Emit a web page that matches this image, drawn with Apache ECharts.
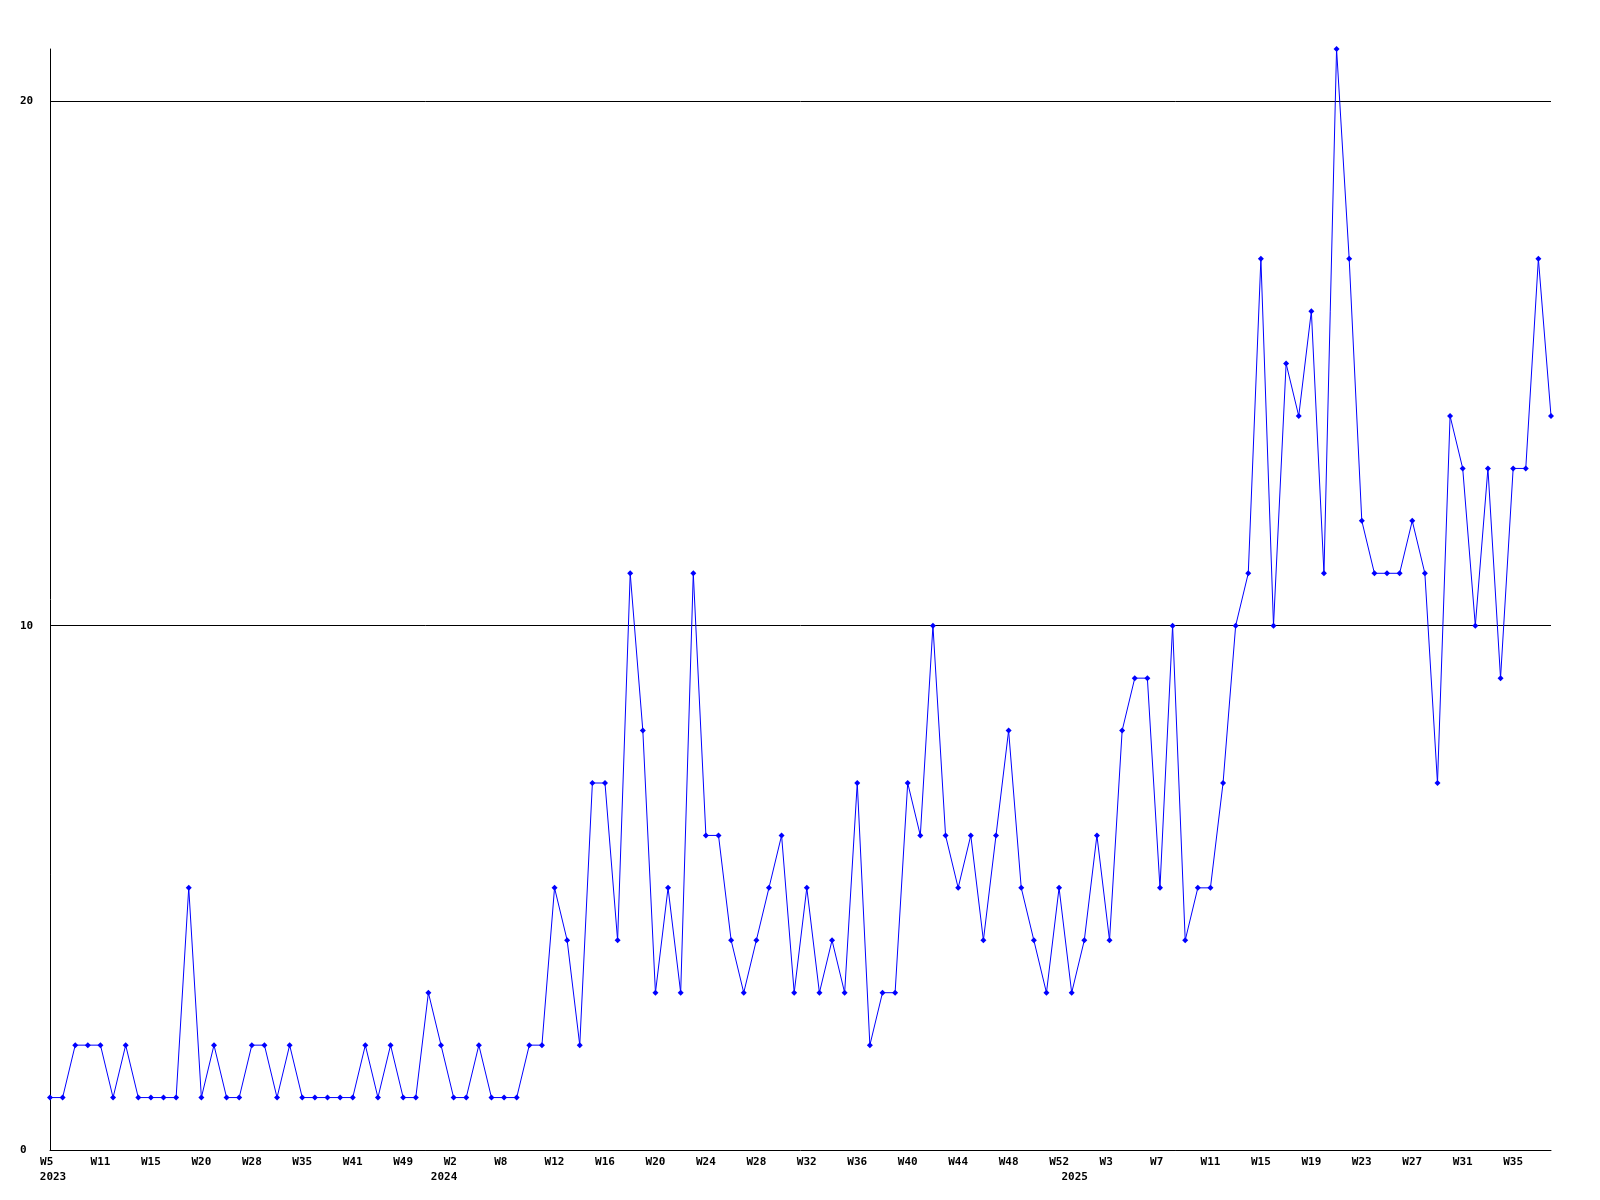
<!DOCTYPE html>
<html>
<head>
<meta charset="utf-8">
<title>Weekly count</title>
<script src="https://cdn.jsdelivr.net/npm/echarts@6/dist/echarts.min.js"></script>
<style>
    html, body { margin: 0; padding: 0; background: #fff; }
    #chart { width: 1600px; height: 1200px; }
</style>
</head>
<body>
<div id="chart"></div>
<script>
    // weeks per year (only weeks that have data)
    var weeks2023 = [5, 6, 7, 9, 11, 12, 13, 14, 15, 16, 17, 19, 20, 22, 24, 26, 28, 30, 32, 33,
        35, 36, 38, 39, 41, 43, 45, 47, 49, 50, 51];
    var weeks2024 = [1, 2, 4, 5, 6, 8, 9, 10, 11, 12, 13, 14, 15, 16, 17, 18, 19, 20, 21, 22,
        23, 24, 25, 26, 27, 28, 29, 30, 31, 32, 33, 34, 35, 36, 37, 38, 39, 40, 41, 42,
        43, 44, 45, 46, 47, 48, 49, 50, 51, 52];
    var weeks2025 = [0, 1, 2, 3, 4, 5, 6, 7, 8, 9, 10, 11, 12, 13, 14, 15, 16, 17, 18, 19,
        20, 21, 22, 23, 24, 25, 26, 27, 28, 29, 30, 31, 32, 33, 34, 35, 36, 37, 38];

    var counts2023 = [1, 1, 2, 2, 2, 1, 2, 1, 1, 1, 1, 5, 1, 2, 1, 1, 2, 2, 1, 2,
        1, 1, 1, 1, 1, 2, 1, 2, 1, 1, 3];
    var counts2024 = [2, 1, 1, 2, 1, 1, 1, 2, 2, 5, 4, 2, 7, 7, 4, 11, 8, 3, 5, 3,
        11, 6, 6, 4, 3, 4, 5, 6, 3, 5, 3, 4, 3, 7, 2, 3, 3, 7, 6, 10,
        6, 5, 6, 4, 6, 8, 5, 4, 3, 5];
    var counts2025 = [3, 4, 6, 4, 8, 9, 9, 5, 10, 4, 5, 5, 7, 10, 11, 17, 10, 15, 14, 16,
        11, 21, 17, 12, 11, 11, 11, 12, 11, 7, 14, 13, 10, 13, 9, 13, 13, 17, 14];

    var categories = [];
    var yearStart = {};
    [[2023, weeks2023], [2024, weeks2024], [2025, weeks2025]].forEach(function (p) {
        yearStart[categories.length] = p[0];
        p[1].forEach(function (w) { categories.push(p[0] + '-W' + w); });
    });
    var counts = counts2023.concat(counts2024, counts2025);

    var labelFont = {
        fontFamily: 'DejaVu Sans Mono',
        fontWeight: 'bold',
        fontSize: 11,
        color: '#000'
    };

    var chart = echarts.init(document.getElementById('chart'));
    chart.setOption({
        animation: false,
        backgroundColor: '#fff',
        grid: { left: 50, right: 49, top: 49, bottom: 50 },
        xAxis: [
            {
                type: 'category',
                data: categories,
                boundaryGap: false,
                axisLine: { lineStyle: { color: '#000', width: 1 } },
                axisTick: { show: false },
                splitLine: { show: false },
                axisLabel: Object.assign({
                    interval: 3,
                    margin: 7,
                    formatter: function (v) {
                        var w = v.split('-')[1];
                        return w.length < 3 ? w + ' ' : w;
                    }
                }, labelFont)
            },
            {
                type: 'category',
                data: categories,
                position: 'bottom',
                boundaryGap: false,
                axisLine: { show: false },
                axisTick: { show: false },
                splitLine: { show: false },
                axisLabel: Object.assign({
                    interval: function (idx) { return yearStart[idx] !== undefined; },
                    margin: 22,
                    formatter: function (v) { return '{y|' + v.split('-')[0] + '}'; },
                    rich: {
                        y: Object.assign({ padding: [0, 0, 0, 6] }, labelFont)
                    }
                }, labelFont)
            }
        ],
        yAxis: {
            type: 'value',
            min: 0,
            max: 21,
            interval: 10,
            axisLine: { show: true, lineStyle: { color: '#000', width: 1 } },
            axisTick: { show: false },
            splitLine: {
                show: true,
                showMinLine: false,
                showMaxLine: false,
                lineStyle: { color: '#000', width: 1 }
            },
            axisLabel: Object.assign({
                margin: 30,
                align: 'left',
                showMaxLabel: false
            }, labelFont)
        },
        series: [{
            type: 'line',
            data: counts,
            color: '#0000ff',
            lineStyle: { color: '#0000ff', width: 1 },
            symbol: 'diamond',
            symbolSize: 6,
            showSymbol: true,
            itemStyle: { color: '#0000ff' }
        }]
    });
</script>
</body>
</html>
